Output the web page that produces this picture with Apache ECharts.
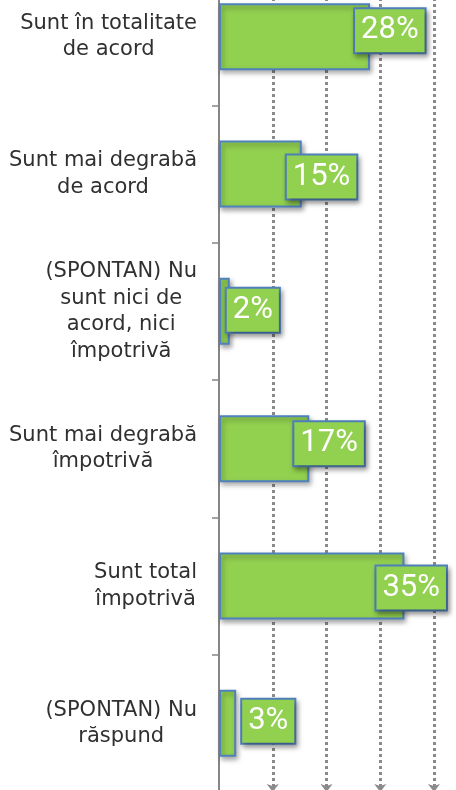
<!DOCTYPE html>
<html>
<head>
<meta charset="utf-8">
<script src="https://cdn.jsdelivr.net/npm/echarts@6/dist/echarts.min.js"></script>
<style>
html,body{margin:0;padding:0;background:#fff;}
#chart{width:456px;height:790px;}
</style>
</head>
<body>
<div id="chart"></div>
<script>
const categories = [
  "Sunt în totalitate\nde acord",
  "Sunt mai degrabă\nde acord",
  "(SPONTAN) Nu\nsunt nici de\nacord, nici\nîmpotrivă",
  "Sunt mai degrabă\nîmpotrivă",
  "Sunt total\nîmpotrivă",
  "(SPONTAN) Nu\nrăspund"
];
const values = [28.1, 15.4, 2.0, 16.8, 34.5, 3.2];
const gridTicks = [10, 20, 30, 40];

// presentation only: manual label nudges (px) as in the original
const labelNudges = [[-15, -6], [-15, 3], [-3, -1], [-15, -5], [-28, 2], [6, -2]];

const chart = echarts.init(document.getElementById('chart'), null, {renderer: 'canvas'});

const green = '#92D050';
const blue = '#4F81BD';

chart.setOption({
  animation: false,
  grid: {left: 219, right: 22, top: -32, height: 824, containLabel: false, outerBoundsMode: 'none'},
  xAxis: {
    type: 'value', min: 0, max: 40, interval: 10,
    show: false,
    splitLine: {show: false}
  },
  yAxis: {
    type: 'category',
    inverse: true,
    data: categories,
    axisLine: {show: true, lineStyle: {color: '#868686', width: 2}},
    axisTick: {show: true, length: 7, lineStyle: {color: '#868686', width: 1.5}},
    axisLabel: {
      margin: 22,
      formatter: function (v) {
        return v.split('\n').map(function (l) { return '{c|' + l + '}'; }).join('\n');
      },
      rich: {
        c: {
          align: 'center',
          fontFamily: 'DejaVu Sans',
          fontSize: 21,
          lineHeight: 26.5,
          color: '#303030'
        }
      }
    }
  },
  series: [{
    type: 'bar',
    z: 3,
    barWidth: 67,
    data: values.map(function (v, i) {
      return {
        value: v,
        label: {offset: labelNudges[i]}
      };
    }),
    itemStyle: {
      color: green,
      borderColor: blue,
      borderWidth: 2,
      shadowColor: 'rgba(0,0,0,0.35)',
      shadowBlur: 5,
      shadowOffsetX: 2,
      shadowOffsetY: 3
    },
    label: {
      show: true,
      position: 'right',
      distance: 0,
      formatter: function (p) { return Math.round(p.value) + '%'; },
      fontFamily: 'Roboto, sans-serif',
      fontSize: 31,
      lineHeight: 39,
      color: '#ffffff',
      backgroundColor: green,
      borderColor: blue,
      borderWidth: 2,
      padding: [2, 6, 2, 6],
      shadowColor: 'rgba(0,0,0,0.35)',
      shadowBlur: 5,
      shadowOffsetX: 2,
      shadowOffsetY: 3
    },
    markLine: {
      silent: true,
      z: 1,
      symbol: ['none', 'arrow'],
      symbolSize: [9, 8],
      label: {show: false},
      lineStyle: {color: '#8a8a8a', width: 3, type: [3, 3], cap: 'butt'},
      emphasis: {disabled: true},
      data: gridTicks.map(function (t) { return {xAxis: t}; })
    }
  }]
});
</script>
</body>
</html>
